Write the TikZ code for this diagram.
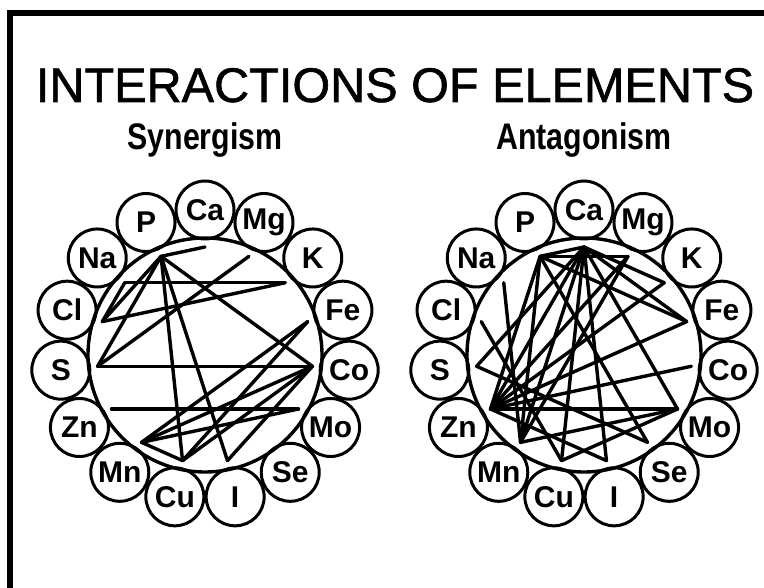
\documentclass[tikz,border=0pt]{standalone}
\usepackage{fontspec}
\setmainfont{Liberation Sans}
\usepackage{graphicx}

\newcommand{\elfont}{\fontsize{30}{30}\selectfont\bfseries}
\newcommand{\subfont}{\fontsize{37}{37}\selectfont\bfseries}

\tikzset{
  elem/.style={circle, draw, line width=3pt, minimum size=58pt, inner sep=0pt, font=\elfont},
  link/.style={line width=3.4pt, line cap=round},
  bigring/.style={line width=3.4pt},
}

\begin{document}
\begin{tikzpicture}[x=1pt, y=1pt]
  \useasboundingbox (0,0) rectangle (764,588);
  % frame (top and left only)
  \draw[line width=6pt] (10,0) -- (10,575) -- (764,575);

  \node[anchor=base, font=\fontsize{48.6}{50}\selectfont\addfontfeature{FakeBold=1.2}] (title) at (395,486)
    {INTERACTIONS OF ELEMENTS};
  \node[anchor=base] (synlabel) at (205,438) {\scalebox{0.82}[1]{\subfont Synergism}};
  \node[anchor=base] (antlabel) at (584,438) {\scalebox{0.82}[1]{\subfont Antagonism}};

  \coordinate (syn) at (205,233);
  \coordinate (ant) at (584,233);
  \draw[bigring] (syn) circle (117pt);
  \draw[bigring] (ant) circle (117pt);

  \foreach \d in {syn,ant}
    \foreach \el/\ang in {Ca/90, Mg/66, K/42, Fe/18, Co/-6, Mo/-30, Se/-54, I/-78,
                          Cu/-102, Mn/-126, Zn/-150, S/-174, Cl/162, Na/138, P/114} {
      \node[elem] (\d\el) at ([shift={(\ang:145)}]\d) {\el};
      \coordinate (\d\el-end) at ([shift={(\ang:108)}]\d);
    }

  % synergism
  \foreach \a/\b in {Na/K, Cl/K, S/Co, Zn/Mo, P/Ca, P/Co, P/S, P/Cl, P/Cu, P/I,
                     Mg/S, Na/Cl, Mn/Fe, Mn/Co, Mn/Mo, Mn/Cu, Cu/Co, Cu/Fe, I/Co}
    \draw[link] (syn\a-end) -- (syn\b-end);

  % antagonism
  \foreach \a/\b in {P/Mg, Ca/P, Ca/Zn, Ca/Mn, Ca/Cu, Ca/I, Ca/Mo, Ca/Fe, Ca/K, Ca/S,
                     P/Zn, P/Mn, P/Fe, P/Se, Na/Mn, Cl/Cu, Mg/Zn, Mg/Mn, K/Zn, Fe/Zn,
                     Co/Zn, Mo/Zn, Mo/Cu, Mo/Mn, S/Se, Zn/I}
    \draw[link] (ant\a-end) -- (ant\b-end);
\end{tikzpicture}
\end{document}
